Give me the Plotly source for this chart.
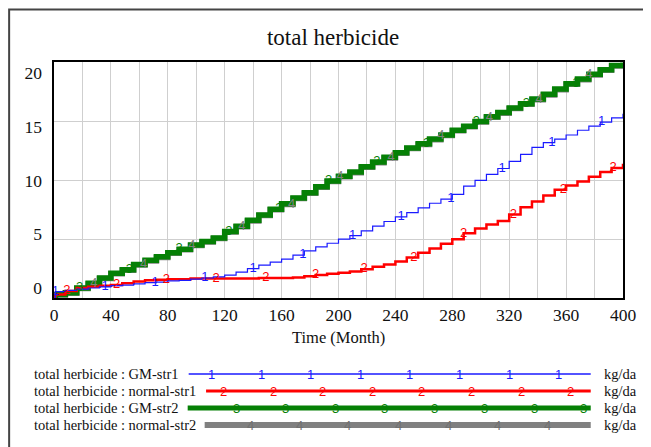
import plotly.graph_objects as go

# ---------------- data ----------------
months = [0, 1, 8, 16, 24, 32, 40, 48, 56, 64, 72, 80, 88, 96, 104, 112, 120,
          128, 136, 144, 152, 160, 168, 176, 184, 192, 200, 208, 216, 224, 232,
          240, 248, 256, 264, 272, 280, 288, 296, 304, 312, 320, 328, 336, 344,
          352, 360, 368, 376, 384, 392, 400]

gm_str1 = [0, 0.55, 0.65, 0.75, 0.85, 0.95, 1.05, 1.1, 1.2, 1.3, 1.35, 1.45,
           1.5, 1.6, 1.7, 1.8, 1.95, 2.2, 2.5, 2.8, 3.05, 3.3, 3.65, 4.0, 4.35,
           4.65, 5.0, 5.3, 5.7, 6.1, 6.5, 6.9, 7.25, 7.65, 8.05, 8.4, 8.8, 9.5,
           10.0, 10.5, 11.0, 11.6, 12.2, 12.8, 13.2, 13.5, 13.85, 14.25, 14.6,
           14.95, 15.3, 15.65]

normal_str1 = [0, 0.3, 0.6, 0.85, 0.95, 1.05, 1.1, 1.25, 1.4, 1.5, 1.55, 1.6,
               1.6, 1.65, 1.65, 1.65, 1.65, 1.65, 1.65, 1.7, 1.7, 1.7, 1.75,
               1.85, 1.95, 2.05, 2.15, 2.25, 2.45, 2.65, 2.85, 3.1, 3.45, 3.85,
               4.2, 4.6, 5.0, 5.5, 5.9, 6.25, 6.55, 7.1, 7.7, 8.2, 8.7, 9.2,
               9.55, 9.9, 10.3, 10.7, 11.05, 11.4]

gm_str2 = [0, 0.3, 0.45, 0.85, 1.25, 1.7, 2.1, 2.4, 2.85, 3.2, 3.5, 3.85, 4.15,
           4.5, 4.8, 5.1, 5.65, 6.1, 6.6, 7.05, 7.55, 8.0, 8.5, 8.95, 9.45,
           9.95, 10.35, 10.7, 11.15, 11.55, 11.95, 12.35, 12.75, 13.1, 13.5,
           13.85, 14.25, 14.6, 15.0, 15.4, 15.75, 16.15, 16.5, 16.9, 17.3,
           17.75, 18.2, 18.6, 19.0, 19.4, 19.75, 20.0]

normal_str2 = [0, 0.25, 0.4, 0.8, 1.2, 1.65, 2.05, 2.35, 2.8, 3.15, 3.45, 3.8,
               4.1, 4.45, 4.75, 5.05, 5.6, 6.05, 6.55, 7.0, 7.5, 7.95, 8.45,
               8.9, 9.4, 9.9, 10.3, 10.65, 11.1, 11.5, 11.9, 12.3, 12.7, 13.05,
               13.45, 13.8, 14.2, 14.55, 14.95, 15.35, 15.7, 16.1, 16.45, 16.85,
               17.25, 17.7, 18.15, 18.55, 18.95, 19.35, 19.7, 19.95]

# times at which the series number markers are drawn
marks_gm_str1 = [1, 36, 71, 106, 140, 175, 210, 244, 279, 315, 350, 385]
marks_normal_str1 = [9, 44, 79, 114, 149, 184, 218, 253, 288, 323, 358, 393]
marks_gm_str2 = [18, 53, 88, 123, 158, 193, 227, 262, 297, 332, 367]
marks_normal_str2 = [28, 63, 97, 132, 167, 201, 237, 272, 306, 341, 376]

x_tick_vals = [0, 40, 80, 120, 160, 200, 240, 280, 320, 360, 400]
y_tick_vals = [0, 5, 10, 15, 20]

title_text = "total herbicide"
x_title = "Time (Month)"
legend_names = ["total herbicide : GM-str1", "total herbicide : normal-str1",
                "total herbicide : GM-str2", "total herbicide : normal-str2"]
unit = "kg/da"

# ---------------- style ----------------
BLUE, RED, GREEN, GRAY = "#1a1aff", "#ff0000", "#058005", "#808080"
SERIF = "Liberation Serif"
SANS = "Liberation Sans"

# page body has an 8px margin: the figure is drawn from (8, 8) of the window
OFF = 8
W, H = 651 - OFF, 447 - OFF
L, R, T, B = 53.5, 623, 62, 298   # plot area in window pixels


def px(x):
    return (x - L) / (R - L)


def py(y):
    return (B - y) / (B - T)


def step_at(ts, vs, t):
    v = vs[0]
    for tt, vv in zip(ts, vs):
        if tt <= t:
            v = vv
    return v


fig = go.Figure()

series = [
    (normal_str2, GRAY, 5.5, "4", marks_normal_str2),
    (gm_str2, GREEN, 5.5, "3", marks_gm_str2),
    (normal_str1, RED, 2.5, "2", marks_normal_str1),
    (gm_str1, BLUE, 1.2, "1", marks_gm_str1),
]
for vals, col, wd, lab, mk in series:
    fig.add_trace(go.Scatter(x=months, y=vals, mode="lines",
                             line=dict(color=col, width=wd, shape="hv"),
                             showlegend=False, hoverinfo="skip"))
for vals, col, wd, lab, mk in series:
    fig.add_trace(go.Scatter(x=mk, y=[step_at(months, vals, t) for t in mk],
                             mode="text", text=[lab] * len(mk),
                             textposition="middle center",
                             textfont=dict(family=SANS, size=13, color=col),
                             showlegend=False, hoverinfo="skip"))

# empty trace on the label axis so it is rendered
fig.add_trace(go.Scatter(x=[None], y=[None], yaxis="y2", showlegend=False,
                         hoverinfo="skip"))

shapes = []
annotations = []

# outer frame
shapes.append(dict(type="rect", xref="paper", yref="paper",
                   x0=px(8.6), x1=px(700), y0=py(9.5), y1=py(500),
                   line=dict(color="#444444", width=2), layer="below"))

# legend
rows_y = [374, 391, 408, 425]
line_x0 = [188.3, 205.7, 187.3, 204.3]
line_x1 = 590.7
legend_cols = [BLUE, RED, GREEN, GRAY]
legend_w = [1.5, 3, 5, 6]
legend_labels = ["1", "2", "3", "4"]
legend_marks = [
    [210.7, 261, 310, 360, 409.3, 459.3, 509, 558.3],
    [223.3, 272.7, 322.7, 372.3, 421.7, 471.3, 521, 570.7],
    [235.7, 285.7, 335.3, 384.3, 434.3, 484, 534, 583.3],
    [250, 299, 347.7, 398.3, 448.3, 497.7, 547.3],
]
for i in range(4):
    yy = rows_y[i]
    annotations.append(dict(x=px(31.7), y=py(yy), xref="paper", yref="paper",
                            text=legend_names[i], showarrow=False,
                            xanchor="left", yanchor="middle",
                            font=dict(family=SERIF, size=14.5, color="#111")))
    annotations.append(dict(x=px(601.7), y=py(yy), xref="paper", yref="paper",
                            text=unit, showarrow=False,
                            xanchor="left", yanchor="middle",
                            font=dict(family=SERIF, size=14.5, color="#111")))
    shapes.append(dict(type="line", xref="paper", yref="paper",
                       x0=px(line_x0[i]), x1=px(line_x1), y0=py(yy), y1=py(yy),
                       line=dict(color=legend_cols[i], width=legend_w[i])))
    for mx in legend_marks[i]:
        annotations.append(dict(x=px(mx), y=py(yy + 0.5), xref="paper",
                                yref="paper", text=legend_labels[i],
                                showarrow=False, xanchor="center",
                                yanchor="middle",
                                font=dict(family=SANS, size=13,
                                          color=legend_cols[i] if i < 3 else "#707070")))

# x axis title
annotations.append(dict(x=px(338.5), y=py(337), xref="paper", yref="paper",
                        text=x_title, showarrow=False, xanchor="center",
                        yanchor="middle",
                        font=dict(family=SERIF, size=16.5, color="#111")))

fig.update_layout(
    width=W, height=H,
    margin=dict(l=L - OFF, r=651 - R, t=T - OFF, b=447 - B, pad=0),
    paper_bgcolor="white", plot_bgcolor="white",
    title=dict(text=title_text, x=(333 - OFF) / W, y=1 - (37 - OFF) / H,
               xanchor="center", yanchor="middle",
               font=dict(family=SERIF, size=23, color="#111")),
    xaxis=dict(range=[0, 400], tickvals=x_tick_vals, showgrid=True,
               gridcolor="#cfcfcf", gridwidth=1,
               minor=dict(dtick=20, showgrid=True, gridcolor="#cfcfcf",
                          gridwidth=1),
               showline=True, linecolor="black", linewidth=2, mirror=True,
               zeroline=False, ticks="", ticklabelstandoff=0,
               tickfont=dict(family=SERIF, size=17.5, color="#111")),
    yaxis=dict(range=[0, 20.05], dtick=5, showgrid=True, gridcolor="#cfcfcf",
               gridwidth=1, showticklabels=False, showline=True,
               linecolor="black", linewidth=2, mirror=True, zeroline=False,
               ticks=""),
    yaxis2=dict(range=[-0.93, 21.02], overlaying="y", side="left",
                tickvals=y_tick_vals, showgrid=False, zeroline=False,
                showline=False, ticks="", ticklabelstandoff=11,
                tickfont=dict(family=SERIF, size=17.5, color="#111")),
    shapes=shapes,
    annotations=annotations,
    showlegend=False,
)

fig.write_html("out.html")
